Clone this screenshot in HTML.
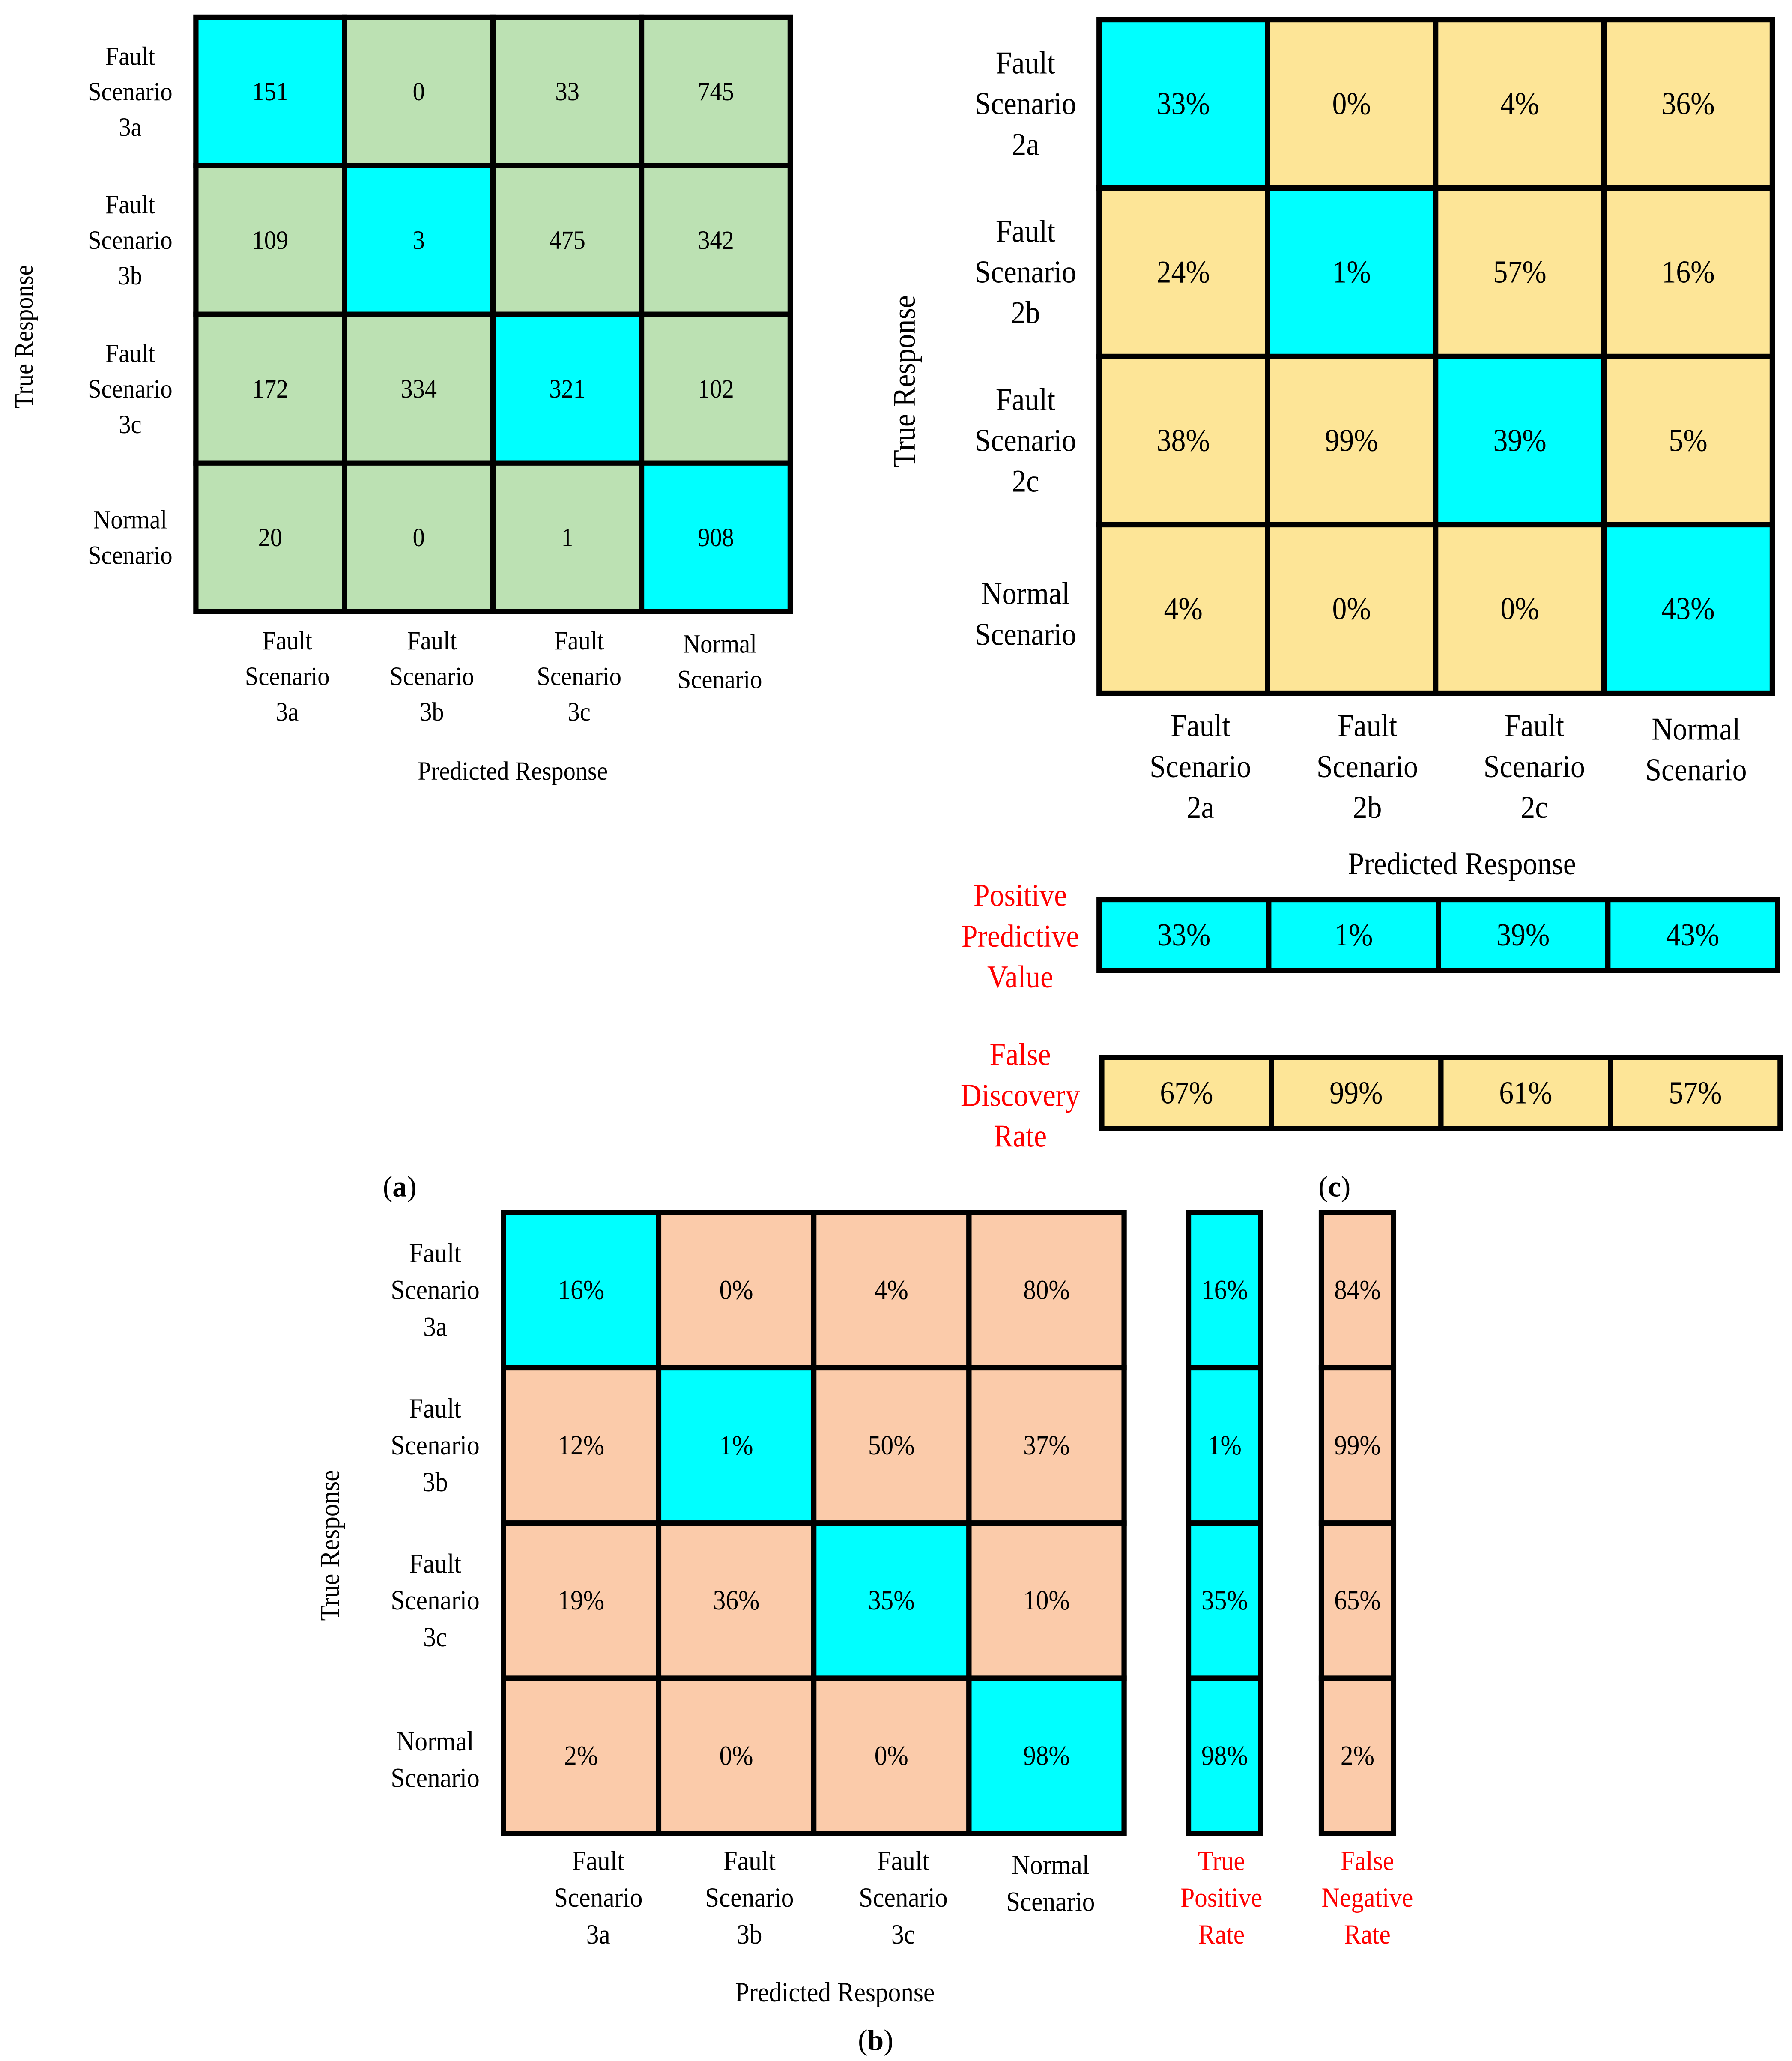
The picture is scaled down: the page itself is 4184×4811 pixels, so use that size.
<!DOCTYPE html>
<html><head><meta charset="utf-8"><style>
html,body{margin:0;padding:0;background:#fff}
svg{display:block}
text{font-family:"Liberation Serif",serif}
</style></head><body>
<svg id="fig" width="4184" height="4811" viewBox="0 0 1363 1567" preserveAspectRatio="none" xmlns="http://www.w3.org/2000/svg"></svg>
<script>
const countsA = [[151,0,33,745],[109,3,475,342],[172,334,321,102],[20,0,1,908]];
const pctC = [[33,0,4,36],[24,1,57,16],[38,99,39,5],[4,0,0,43]];
const ppvC = [33,1,39,43];
const fdrC = [67,99,61,57];
const pctB = [[16,0,4,80],[12,1,50,37],[19,36,35,10],[2,0,0,98]];
const tprB = [16,1,35,98];
const fnrB = [84,99,65,2];
const classesA = [["Fault","Scenario","3a"],["Fault","Scenario","3b"],["Fault","Scenario","3c"],["Normal","Scenario"]];
const classesC = [["Fault","Scenario","2a"],["Fault","Scenario","2b"],["Fault","Scenario","2c"],["Normal","Scenario"]];

const svg = document.getElementById('fig');
const NS = 'http://www.w3.org/2000/svg';
function el(tag, attrs, parent){const e=document.createElementNS(NS,tag);for(const k in attrs)e.setAttribute(k,attrs[k]);(parent||svg).appendChild(e);return e;}
function txt(x,y,s,size,color,name,anchor,rot,bold){
  const t=el('text',{x:x,y:y,'font-size':size,fill:color||'#000','text-anchor':anchor||'middle','dominant-baseline':'central'});
  let tr='translate('+x+' '+y+')'+(rot?' rotate(-90)':'')+' scale(0.92 1) translate('+(-x)+' '+(-y)+')';
  t.setAttribute('transform',tr);
  if(bold) t.setAttribute('font-weight','bold');
  t.textContent=s;
  
  
  return t;
}
function lines(x,y,arr,size,lh,color,name){
  const n=arr.length; arr.forEach((s,i)=>txt(x,y+(i-(n-1)/2)*lh,s,size,color,name));
}
function cell(x,y,w,h,fill,label,size,name){
  const r=el('rect',{x:x,y:y,width:w,height:h,fill:fill,stroke:'#000','stroke-width':4});
  
  
  txt(x+w/2,y+h/2,label,size,'#000',name+'-value');
}
function matrix(x0,y0,cw,ch,vals,diag,off,size,suffix,name){
  vals.forEach((row,i)=>row.forEach((v,j)=>cell(x0+j*cw,y0+i*ch,cw,ch,i===j?'#00FFFF':off,v+suffix,size,name+'-cell-r'+i+'c'+j)));
}
function panelLabel(x,y,letter,name){
  const t=el('text',{x:x,y:y,'font-size':22,fill:'#000','text-anchor':'middle','dominant-baseline':'central'});
  
  
  t.appendChild(document.createTextNode('('));
  const b=el('tspan',{'font-weight':'bold'},t); b.textContent=letter;
  t.appendChild(document.createTextNode(')'));
}
const CY='#00FFFF', GR='#BCE1B3', YE='#FDE597', PE='#FBCBAA', RED='#FF0000';

// Panel (a)
(function(){
  const x0=149,y0=13,c=113;
  matrix(x0,y0,c,c,countsA,CY,GR,20,'','matrix-a');
  classesA.forEach((l,i)=>lines(99,y0+c*i+c/2,l,20,27,'#000','row-label-a'));
  const off=[13,10,9,3];
  classesA.forEach((l,i)=>lines(x0+c*i+c/2+off[i],i===3?503:514,l,20,27,'#000','col-label-a'));
  txt(390,586,'Predicted Response',20,'#000','x-axis-title-a');
  txt(18,256,'True Response',20,'#000','y-axis-title-a','middle',true);
  panelLabel(304,902,'a','panel-label-a');
})();

// Panel (c)
(function(){
  const x0=836,y0=15,c=128;
  matrix(x0,y0,c,c,pctC,CY,YE,24,'%','matrix-c');
  classesC.forEach((l,i)=>lines(780,y0+c*i+c/2+(i===3?4:0),l,24,31,'#000','row-label-c'));
  const off=[13,12,11,6];
  classesC.forEach((l,i)=>lines(x0+c*i+c/2+off[i],i===3?570:583,l,24,31,'#000','col-label-c'));
  txt(1112,657,'Predicted Response',24,'#000','x-axis-title-c');
  txt(688,290,'True Response',24,'#000','y-axis-title-c','middle',true);
  ppvC.forEach((v,j)=>cell(836+j*129,684,129,54,CY,v+'%',24,'ppv-cell-'+j));
  fdrC.forEach((v,j)=>cell(838+j*129,804,129,54,YE,v+'%',24,'fdr-cell-'+j));
  lines(776,712,['Positive','Predictive','Value'],24,31,RED,'ppv-label');
  lines(776,833,['False','Discovery','Rate'],24,31,RED,'fdr-label');
  panelLabel(1015,902,'c','panel-label-c');
})();

// Panel (b)
(function(){
  const x0=383,y0=922,c=118;
  matrix(x0,y0,c,c,pctB,CY,PE,21,'%','matrix-b');
  tprB.forEach((v,i)=>cell(904,y0+i*c,55,c,CY,v+'%',21,'tpr-cell-'+i));
  fnrB.forEach((v,i)=>cell(1005,y0+i*c,55,c,PE,v+'%',21,'fnr-cell-'+i));
  classesA.forEach((l,i)=>lines(331,y0+c*i+c/2+(i===3?3:0),l,21,28,'#000','row-label-b'));
  const off=[13,10,9,3];
  classesA.forEach((l,i)=>lines(x0+c*i+c/2+off[i],i===3?1432:1443,l,21,28,'#000','col-label-b'));
  lines(929,1443,['True','Positive','Rate'],21,28,RED,'tpr-label');
  lines(1040,1443,['False','Negative','Rate'],21,28,RED,'fnr-label');
  txt(635,1515,'Predicted Response',21,'#000','x-axis-title-b');
  txt(251,1175,'True Response',21,'#000','y-axis-title-b','middle',true);
  panelLabel(666,1551,'b','panel-label-b');
})();
</script>
</body></html>
